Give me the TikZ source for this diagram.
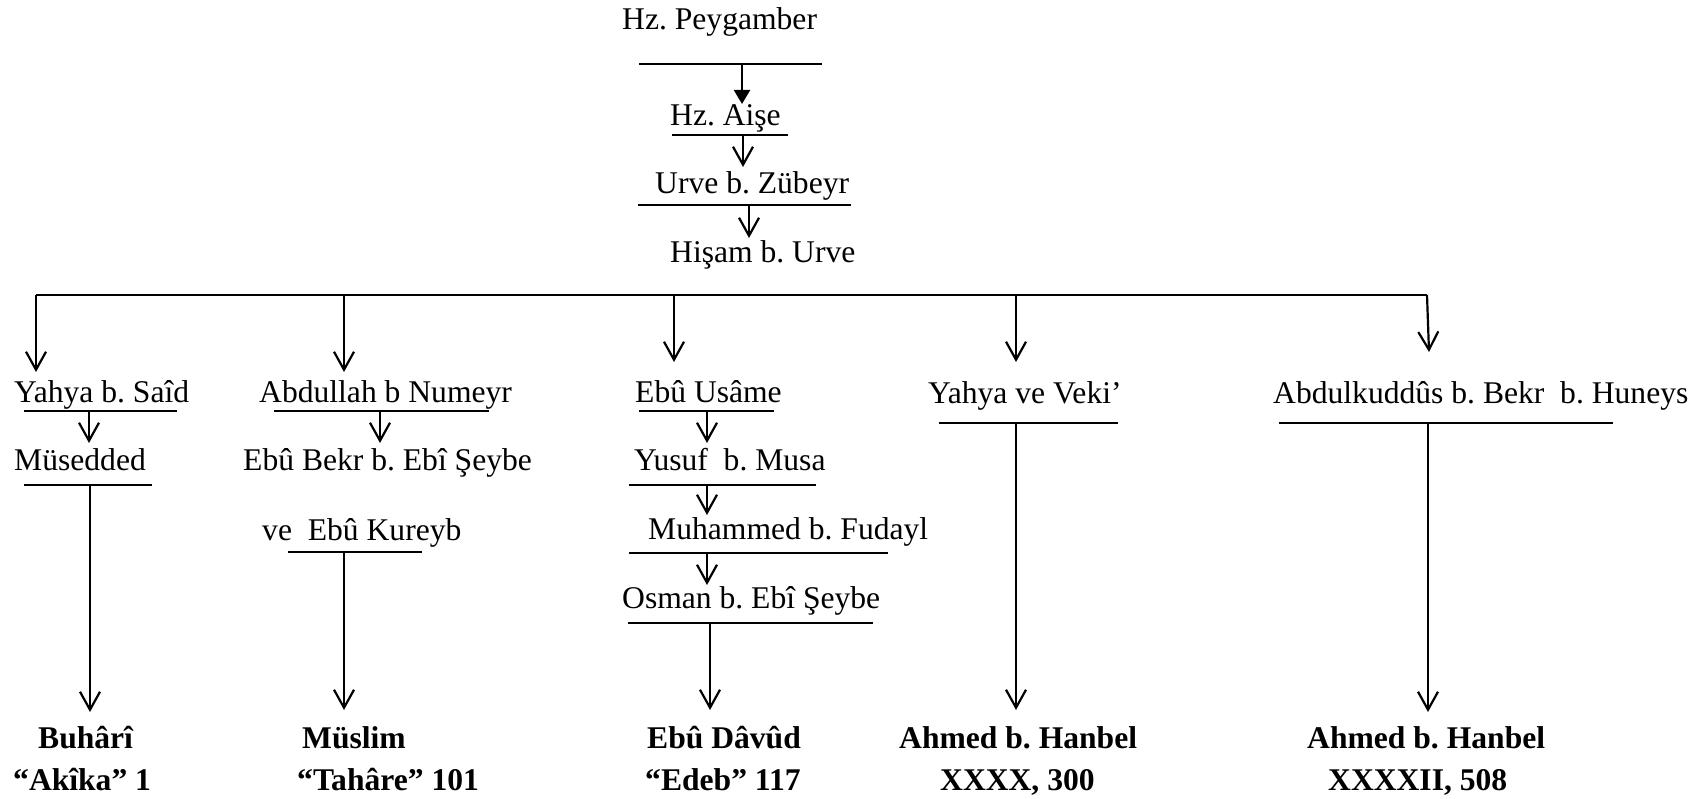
\documentclass[tikz,border=0pt]{standalone}
\usepackage{fontspec}
\setmainfont{Liberation Serif}
\usetikzlibrary{arrows.meta}
\frenchspacing
\tikzset{
  txt/.style={inner sep=0pt, anchor=base west, font=\fontsize{31.6}{36}\selectfont\frenchspacing},
  btxt/.style={inner sep=0pt, anchor=base west, font=\fontsize{31.6}{36}\selectfont\bfseries\frenchspacing},
  rule/.style={line width=2.2pt},
  arr/.style={line width=2.2pt, -{Straight Barb[length=18pt,width=20pt]}},
  farr/.style={line width=2.2pt, -{Triangle[length=14pt,width=16pt]}},
}
\begin{document}
\begin{tikzpicture}[x=1pt,y=-1pt]
\useasboundingbox (0,0) rectangle (1704,799);

% ---------- top chain ----------
\node[txt] (peyg) at (622,30) {Hz. Peygamber};
\coordinate (u0a) at (639,64); \coordinate (u0b) at (822,64);
\draw[rule] (u0a) -- (u0b);
\coordinate (a0s) at (742,64); \coordinate (a0e) at (742,104);
\draw[farr] (a0s) -- (a0e);

\node[txt] (aise) at (670,126) {Hz. Aişe};
\coordinate (u1a) at (672,135); \coordinate (u1b) at (788,135);
\draw[rule] (u1a) -- (u1b);
\coordinate (a1s) at (743,135); \coordinate (a1e) at (743,167);
\draw[arr] (a1s) -- (a1e);

\node[txt] (urve) at (655,194) {Urve b. Zübeyr};
\coordinate (u2a) at (638,205); \coordinate (u2b) at (851,205);
\draw[rule] (u2a) -- (u2b);
\coordinate (a2s) at (749,205); \coordinate (a2e) at (749,238);
\draw[arr] (a2s) -- (a2e);

\node[txt] (hisam) at (670,263) {Hişam b. Urve};

% ---------- branch line ----------
\coordinate (b1) at (36,295);
\coordinate (b2) at (344,295);
\coordinate (b3) at (674,295);
\coordinate (b4) at (1016,295);
\coordinate (b5) at (1427,295);
\draw[rule] (b1) -- (b5);
\coordinate (t1) at (36,372);
\coordinate (t2) at (344,372);
\coordinate (t3) at (674,362);
\coordinate (t4) at (1016,362);
\coordinate (t5) at (1429,352);
\draw[arr] (b1) -- (t1);
\draw[arr] (b2) -- (t2);
\draw[arr] (b3) -- (t3);
\draw[arr] (b4) -- (t4);
\draw[arr] (b5) -- (t5);

% ---------- column 1 ----------
\node[txt] (yahya) at (14,402) {Yahya b. Saîd};
\coordinate (c1ua) at (24,411); \coordinate (c1ub) at (177,411);
\draw[rule] (c1ua) -- (c1ub);
\coordinate (c1as) at (89,411); \coordinate (c1ae) at (89,443);
\draw[arr] (c1as) -- (c1ae);
\node[txt] (mused) at (14,470) {Müsedded};
\coordinate (c1va) at (24,485); \coordinate (c1vb) at (152,485);
\draw[rule] (c1va) -- (c1vb);
\coordinate (c1bs) at (90,485); \coordinate (c1be) at (90,712);
\draw[arr] (c1bs) -- (c1be);
\node[btxt] (buhari) at (38,748) {Buhârî};
\node[btxt] (buhari2) at (13,790) {“Akîka” 1};

% ---------- column 2 ----------
\node[txt] (abdullah) at (259,402) {Abdullah b Numeyr};
\coordinate (c2ua) at (274,411); \coordinate (c2ub) at (489,411);
\draw[rule] (c2ua) -- (c2ub);
\coordinate (c2as) at (380,411); \coordinate (c2ae) at (380,443);
\draw[arr] (c2as) -- (c2ae);
\node[txt] (ebubekr) at (243,470) {Ebû Bekr b. Ebî Şeybe};
\node[txt] (kureyb) at (262,540) {ve~ Ebû Kureyb};
\coordinate (c2va) at (288,552); \coordinate (c2vb) at (422,552);
\draw[rule] (c2va) -- (c2vb);
\coordinate (c2bs) at (344,552); \coordinate (c2be) at (344,710);
\draw[arr] (c2bs) -- (c2be);
\node[btxt] (muslim) at (302,748) {Müslim};
\node[btxt] (muslim2) at (297,790) {“Tahâre” 101};

% ---------- column 3 ----------
\node[txt] (usame) at (635,402) {Ebû Usâme};
\coordinate (c3ua) at (639,411); \coordinate (c3ub) at (774,411);
\draw[rule] (c3ua) -- (c3ub);
\coordinate (c3as) at (707,411); \coordinate (c3ae) at (707,443);
\draw[arr] (c3as) -- (c3ae);
\node[txt] (yusuf) at (634,470) {Yusuf~ b. Musa};
\coordinate (c3va) at (629,485); \coordinate (c3vb) at (816,485);
\draw[rule] (c3va) -- (c3vb);
\coordinate (c3bs) at (707,485); \coordinate (c3be) at (707,515);
\draw[arr] (c3bs) -- (c3be);
\node[txt] (fudayl) at (648,539) {Muhammed b. Fudayl};
\coordinate (c3wa) at (629,553); \coordinate (c3wb) at (888,553);
\draw[rule] (c3wa) -- (c3wb);
\coordinate (c3cs) at (707,553); \coordinate (c3ce) at (707,585);
\draw[arr] (c3cs) -- (c3ce);
\node[txt] (osman) at (622,608) {Osman b. Ebî Şeybe};
\coordinate (c3xa) at (628,623); \coordinate (c3xb) at (873,623);
\draw[rule] (c3xa) -- (c3xb);
\coordinate (c3ds) at (710,623); \coordinate (c3de) at (710,710);
\draw[arr] (c3ds) -- (c3de);
\node[btxt] (davud) at (647,748) {Ebû Dâvûd};
\node[btxt] (davud2) at (645,790) {“Edeb” 117};

% ---------- column 4 ----------
\node[txt] (veki) at (928,403) {Yahya ve Veki’};
\coordinate (c4ua) at (939,423); \coordinate (c4ub) at (1118,423);
\draw[rule] (c4ua) -- (c4ub);
\coordinate (c4as) at (1016,423); \coordinate (c4ae) at (1016,710);
\draw[arr] (c4as) -- (c4ae);
\node[btxt] (hanbel1) at (899,748) {Ahmed b. Hanbel};
\node[btxt] (hanbel1b) at (940,790) {XXXX, 300};

% ---------- column 5 ----------
\node[txt] (huneys) at (1273,403) {Abdulkuddûs b. Bekr~ b. Huneys};
\coordinate (c5ua) at (1279,423); \coordinate (c5ub) at (1613,423);
\draw[rule] (c5ua) -- (c5ub);
\coordinate (c5as) at (1428,423); \coordinate (c5ae) at (1428,712);
\draw[arr] (c5as) -- (c5ae);
\node[btxt] (hanbel2) at (1307,748) {Ahmed b. Hanbel};
\node[btxt] (hanbel2b) at (1328,790) {XXXXII, 508};
\end{tikzpicture}
\end{document}
